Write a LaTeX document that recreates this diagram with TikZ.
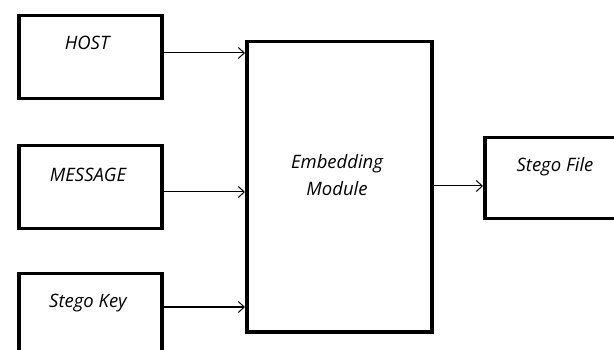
\documentclass[tikz,border=0pt]{standalone}
\usepackage{fontspec}
\setmainfont{Open Sans}
\usetikzlibrary{arrows.meta}
\begin{document}
\begin{tikzpicture}[x=1pt,y=-1pt,
  box/.style={draw=black,line width=3.5pt,fill=white,inner sep=0pt,anchor=north west},
  lbl/.style={font=\itshape\fontsize{18.5}{27}\selectfont,align=center,inner sep=0pt},
  conn/.style={line width=1pt,-{Straight Barb[length=6pt,width=11pt,line width=1pt]}}]
\useasboundingbox (0,0) rectangle (614,350);
\clip (0,0) rectangle (614,350);
\fill[white] (0,0) rectangle (614,350);
\node[box,minimum width=143pt,minimum height=83pt] (host) at (17,14) {};
\node[box,minimum width=143pt,minimum height=83pt] (msg) at (17,144) {};
\node[box,minimum width=143pt,minimum height=83pt] (key) at (17,272) {};
\node[box,minimum width=185pt,minimum height=290pt] (emb) at (245,40) {};
\node[box,minimum width=145pt,minimum height=81pt] (out) at (483,136) {};
\node[lbl] (thost) at (87,43) {HOST};
\node[lbl] (tmsg) at (88,175) {MESSAGE};
\node[lbl] (tkey) at (88,303) {Stego Key};
\node[lbl] (temb) at (337,175.5) {Embedding\\Module};
\node[lbl] (tout) at (555,167) {Stego File};
\draw[conn] (host.east |- 0,53) -- (emb.west |- 0,53);
\draw[conn] (msg.east |- 0,192) -- (emb.west |- 0,192);
\draw[conn] (key.east |- 0,307) -- (emb.west |- 0,307);
\draw[conn] (emb.east |- 0,186) -- (out.west |- 0,186);
\end{tikzpicture}
\end{document}
